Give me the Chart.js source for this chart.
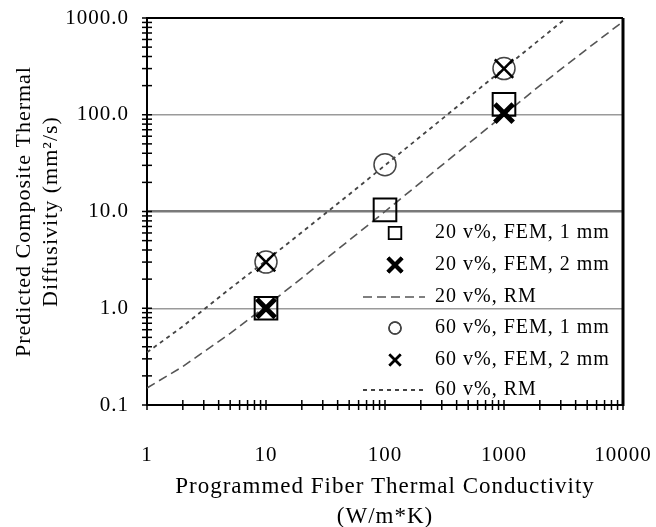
<!DOCTYPE html>
<html>
<head>
<meta charset="utf-8">
<script src="https://cdn.jsdelivr.net/npm/chart.js@4"></script>
<style>
  html, body { margin: 0; padding: 0; background: #fff; }
</style>
</head>
<body>
<canvas id="diffChart" width="656" height="527"></canvas>
<script>
// -------------------
// Data
// -------------------
const femX = [10, 100, 1000];
const fem20_1mm = [1.0, 10.4, 128];
const fem2mmX = [10, 1000];
const fem20_2mm = [1.0, 104];
const fem60_1mm = [3.0, 30.5, 300];
const fem60_2mm = [3.0, 300];

const rmX = [1, 2, 5, 10, 20, 50, 100, 200, 500, 1000, 2000, 5000, 10000];
const rm20 = [0.15, 0.25, 0.55, 1.05, 2.05, 5.05, 10, 20, 50, 100, 200, 480, 920];
const rm60 = [0.35, 0.65, 1.6, 3.1, 6.1, 15, 30, 60, 150, 300, 600, 1500, 3000];

const yTickValues = [0.1, 1, 10, 100, 1000];
const xTickValues = [1, 10, 100, 1000, 10000];
const seriesLabels = [
  '20 v%, FEM, 1 mm', '20 v%, FEM, 2 mm', '20 v%, RM',
  '60 v%, FEM, 1 mm', '60 v%, FEM, 2 mm', '60 v%, RM'
];

const SERIF = "'Liberation Serif', 'Times New Roman', serif";
const pts = (xs, ys) => xs.map((x, i) => ({ x: x, y: ys[i] }));

// -------------------
// Plugins: spacing, crossing ticks, frame, legend
// -------------------
const spacing = {
  id: 'spacing',
  beforeUpdate(chart) { chart.ctx.letterSpacing = '1px'; },
  beforeDraw(chart) { chart.ctx.letterSpacing = '1px'; }
};

const frame = {
  id: 'frame',
  afterDraw(chart) {
    const { ctx, chartArea: a, scales } = chart;
    ctx.save();
    ctx.strokeStyle = '#000';
    ctx.lineWidth = 1.5;
    // minor/major ticks crossing both axes
    for (let d = -1; d <= 3; d++) {
      for (let m = 1; m <= 9; m++) {
        const v = m * Math.pow(10, d);
        if (v < 0.1 || v > 1000) continue;
        const py = scales.y.getPixelForValue(v);
        ctx.beginPath(); ctx.moveTo(a.left - 5, py); ctx.lineTo(a.left + 5, py); ctx.stroke();
      }
    }
    for (let d = 0; d <= 4; d++) {
      for (let m = 1; m <= 9; m++) {
        const v = m * Math.pow(10, d);
        if (v > 10000) continue;
        const px = scales.x.getPixelForValue(v);
        ctx.beginPath(); ctx.moveTo(px, a.bottom - 5); ctx.lineTo(px, a.bottom + 5); ctx.stroke();
      }
    }
    // top and right border
    ctx.lineWidth = 2;
    ctx.beginPath();
    ctx.moveTo(a.left, a.top); ctx.lineTo(a.right, a.top); ctx.stroke();
    ctx.lineWidth = 3;
    ctx.beginPath();
    ctx.moveTo(a.right, a.top); ctx.lineTo(a.right, a.bottom + 1); ctx.stroke();
    ctx.restore();
  }
};

const insideLegend = {
  id: 'insideLegend',
  afterDraw(chart) {
    const ctx = chart.ctx;
    const symX = 395, textX = 435, rowY = [233, 265, 297, 328, 360, 390];
    const syms = [
      { pointStyle: 'rect', radius: 9, borderWidth: 1.5, color: '#000' },
      { pointStyle: 'crossRot', radius: 10, borderWidth: 4, color: '#000' },
      null,
      { pointStyle: 'circle', radius: 6, borderWidth: 1.5, color: '#444' },
      { pointStyle: 'crossRot', radius: 8, borderWidth: 2.5, color: '#000' },
      null
    ];
    ctx.save();
    chart.data.datasets.forEach((ds, i) => {
      const y = rowY[i];
      if (syms[i]) {
        ctx.strokeStyle = syms[i].color;
        ctx.fillStyle = 'rgba(0,0,0,0)';
        ctx.lineWidth = syms[i].borderWidth;
        ctx.setLineDash([]);
        Chart.helpers.drawPoint(ctx, { pointStyle: syms[i].pointStyle, radius: syms[i].radius, rotation: 0, borderWidth: syms[i].borderWidth }, symX, y);
        ctx.stroke();
      } else {
        ctx.strokeStyle = ds.borderColor;
        ctx.lineWidth = ds.borderWidth;
        ctx.setLineDash(ds.borderDash);
        ctx.beginPath(); ctx.moveTo(363, y); ctx.lineTo(425, y); ctx.stroke();
      }
      ctx.setLineDash([]);
      ctx.fillStyle = '#000';
      ctx.font = '20px ' + SERIF;
      ctx.textAlign = 'left';
      ctx.textBaseline = 'middle';
      ctx.fillText(seriesLabels[i], textX, y);
    });
    ctx.restore();
  }
};

// -------------------
// Chart
// -------------------
const data = {
  datasets: [
    {
      label: seriesLabels[0], data: pts(femX, fem20_1mm), order: 0,
      pointStyle: 'rect', pointRadius: 16, pointBorderWidth: 2,
      borderColor: '#000', backgroundColor: 'rgba(0,0,0,0)', showLine: false
    },
    {
      label: seriesLabels[1], data: pts(fem2mmX, fem20_2mm), order: 1,
      pointStyle: 'crossRot', pointRadius: 13, pointBorderWidth: 5,
      borderColor: '#000', backgroundColor: '#000', showLine: false
    },
    {
      label: seriesLabels[2], data: pts(rmX, rm20), order: 5,
      showLine: true, pointRadius: 0, borderColor: '#555', borderWidth: 1.6,
      borderDash: [9, 5], tension: 0
    },
    {
      label: seriesLabels[3], data: pts(femX, fem60_1mm), order: 2,
      pointStyle: 'circle', pointRadius: 11, pointBorderWidth: 1.5,
      borderColor: '#444', backgroundColor: 'rgba(0,0,0,0)', showLine: false
    },
    {
      label: seriesLabels[4], data: pts(fem2mmX, fem60_2mm), order: 1,
      pointStyle: 'crossRot', pointRadius: 13, pointBorderWidth: 2.5,
      borderColor: '#000', backgroundColor: '#000', showLine: false
    },
    {
      label: seriesLabels[5], data: pts(rmX, rm60), order: 5,
      showLine: true, pointRadius: 0, borderColor: '#444', borderWidth: 1.8,
      borderDash: [4, 4], tension: 0
    }
  ]
};

const config = {
  type: 'scatter',
  data: data,
  options: {
    responsive: false,
    animation: false,
    layout: { autoPadding: false, padding: { left: 0, right: 33, top: 18, bottom: 0 } },
    plugins: {
      legend: { display: false },
      tooltip: { enabled: false }
    },
    scales: {
      x: {
        type: 'logarithmic', min: 1, max: 10000,
        afterBuildTicks(s) { s.ticks = xTickValues.map(v => ({ value: v })); },
        afterFit(s) { s.height = 122; s.paddingLeft = 0; s.paddingRight = 0; },
        grid: { drawTicks: false, color: 'rgba(0,0,0,0)' },
        border: { color: '#000', width: 2 },
        ticks: {
          callback: v => String(v), padding: 38, maxRotation: 0, autoSkip: false,
          color: '#000', font: { family: SERIF, size: 21 }
        },
        title: {
          display: true, text: ['Programmed Fiber Thermal Conductivity', '(W/m*K)'],
          color: '#000', font: { family: SERIF, size: 23, lineHeight: 1.3 },
          padding: { top: 4, bottom: -5 }
        }
      },
      y: {
        type: 'logarithmic', min: 0.1, max: 1000,
        afterBuildTicks(s) { s.ticks = yTickValues.map(v => ({ value: v })); },
        afterFit(s) { s.width = 147; s.paddingTop = 0; s.paddingBottom = 0; },
        grid: {
          drawTicks: false,
          color: c => (c.tick && [1, 10, 100].includes(c.tick.value)) ? (c.tick.value === 10 ? '#7a7a7a' : '#9a9a9a') : 'rgba(0,0,0,0)',
          lineWidth: c => (c.tick && c.tick.value === 10) ? 2.5 : 1.5
        },
        border: { color: '#000', width: 2 },
        ticks: {
          callback: v => Number(v).toFixed(1), padding: 18, autoSkip: false,
          color: '#000', font: { family: SERIF, size: 21 }
        },
        title: {
          display: true, text: ['Predicted Composite Thermal', 'Diffusivity (mm\u00b2/s)'],
          color: '#000', font: { family: SERIF, size: 22, lineHeight: 1.25 },
          padding: { top: 10, bottom: 0 }
        }
      }
    }
  },
  plugins: [spacing, frame, insideLegend]
};

new Chart(document.getElementById('diffChart'), config);
</script>
</body>
</html>
